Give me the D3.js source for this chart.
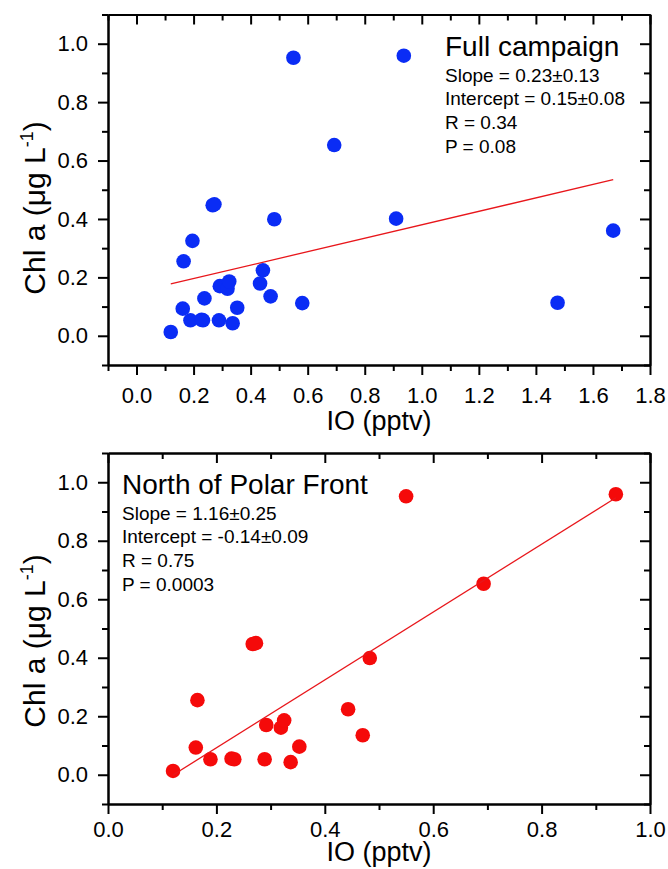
<!DOCTYPE html>
<html>
<head>
<meta charset="utf-8">
<script src="https://cdn.jsdelivr.net/npm/d3@7"></script>
<style>
  body { margin: 0; background: #fff; }
  svg text { font-family: "Liberation Sans", Arial, sans-serif; font-weight: normal; fill: #000; }
</style>
</head>
<body>
<div id="wrapper"></div>
<script>
// north of polar front samples
const northIO  = [0.120, 0.162, 0.165, 0.189, 0.228, 0.233, 0.267, 0.273, 0.289, 0.292,
                  0.319, 0.325, 0.337, 0.353, 0.443, 0.470, 0.483, 0.550, 0.693, 0.937];
const northChl = [0.013, 0.093, 0.255, 0.053, 0.055, 0.053, 0.447, 0.450, 0.053, 0.170,
                  0.161, 0.186, 0.043, 0.096, 0.224, 0.135, 0.399, 0.952, 0.653, 0.959];
// remaining samples (only in the full campaign panel)
const southIO  = [0.196, 0.238, 0.433, 0.581, 0.910, 1.476, 1.671];
const southChl = [0.325, 0.128, 0.179, 0.112, 0.401, 0.113, 0.360];

const fullIO  = northIO.concat(southIO);
const fullChl = northChl.concat(southChl);

const panelTitles = ["Full campaign", "North of Polar Front"];
const fitSlope = [0.23, 1.16];
const fitIntercept = [0.15, -0.14];
const statLines = [
  ["Slope = 0.23\u00B10.13", "Intercept = 0.15\u00B10.08", "R = 0.34", "P = 0.08"],
  ["Slope = 1.16\u00B10.25", "Intercept = -0.14\u00B10.09", "R = 0.75", "P = 0.0003"]
];
const xDomains = [[-0.1, 1.8], [0, 1.0]];
const yDomain = [-0.1, 1.1];
const yTicks = [0, 0.2, 0.4, 0.6, 0.8, 1.0];
const xTicksList = [[0, 0.2, 0.4, 0.6, 0.8, 1.0, 1.2, 1.4, 1.6, 1.8], [0, 0.2, 0.4, 0.6, 0.8, 1.0]];

const svg = d3.select("#wrapper").append("svg")
  .attr("width", 668)
  .attr("height", 869);

const panels = [
  { io: fullIO, chl: fullChl, color: "#0a2cf5", top: 14.5, bottom: 365, titleX: 445, titleY: 56,
    xPad: 12, xTitleY: 430, yTitleMid: 208 },
  { io: northIO, chl: northChl, color: "#f50a0a", top: 453, bottom: 804, titleX: 122, titleY: 494,
    xPad: 7, xTitleY: 861, yTitleMid: 641 }
];

const left = 108, right = 650;

panels.forEach((p, i) => {
  const x = d3.scaleLinear().domain(xDomains[i]).range([left, right]);
  const y = d3.scaleLinear().domain(yDomain).range([p.bottom, p.top]);

  const xMinor = d3.range(xDomains[i][0], xDomains[i][1] + 0.001, 0.1)
    .map(v => Math.round(v * 10) / 10)
    .filter(v => !xTicksList[i].some(t => Math.abs(t - v) < 1e-6));
  const yMinor = [-0.1, 0.1, 0.3, 0.5, 0.7, 0.9, 1.1];

  const g = svg.append("g");

  const styleAxis = sel => {
    sel.attr("font-family", null).attr("font-size", null);
    sel.selectAll("path").attr("stroke", "#000").attr("stroke-width", 2);
    sel.selectAll("line").attr("stroke", "#000").attr("stroke-width", 2);
    sel.selectAll("text").style("font-size", "22px").attr("fill", "#111");
  };

  // bottom axis
  g.append("g").attr("transform", `translate(0,${p.bottom})`)
    .call(d3.axisBottom(x).tickValues(xTicksList[i]).tickFormat(d3.format(".1f"))
      .tickSize(10).tickSizeOuter(0).tickPadding(p.xPad))
    .call(styleAxis);
  g.append("g").attr("transform", `translate(0,${p.bottom})`)
    .call(d3.axisBottom(x).tickValues(xMinor).tickFormat("").tickSize(6).tickSizeOuter(0))
    .call(styleAxis);

  // top axis, ticks inward
  g.append("g").attr("transform", `translate(0,${p.top})`)
    .call(d3.axisTop(x).tickValues(xTicksList[i]).tickFormat("").tickSize(-10).tickSizeOuter(0))
    .call(styleAxis);
  g.append("g").attr("transform", `translate(0,${p.top})`)
    .call(d3.axisTop(x).tickValues(xMinor).tickFormat("").tickSize(-6).tickSizeOuter(0))
    .call(styleAxis);

  // left axis
  g.append("g").attr("transform", `translate(${left},0)`)
    .call(d3.axisLeft(y).tickValues(yTicks).tickFormat(d3.format(".1f"))
      .tickSize(10).tickSizeOuter(0).tickPadding(10))
    .call(styleAxis);
  g.append("g").attr("transform", `translate(${left},0)`)
    .call(d3.axisLeft(y).tickValues(yMinor).tickFormat("").tickSize(6).tickSizeOuter(0))
    .call(styleAxis);

  // right axis, ticks inward
  g.append("g").attr("transform", `translate(${right},0)`)
    .call(d3.axisRight(y).tickValues(yTicks).tickFormat("").tickSize(-10).tickSizeOuter(0))
    .call(styleAxis);
  g.append("g").attr("transform", `translate(${right},0)`)
    .call(d3.axisRight(y).tickValues(yMinor).tickFormat("").tickSize(-6).tickSizeOuter(0))
    .call(styleAxis);

  // axis titles
  g.append("text")
    .attr("x", (left + right) / 2)
    .attr("y", p.xTitleY)
    .attr("text-anchor", "middle")
    .style("font-size", "27px")
    .text("IO (pptv)");

  const yt = g.append("text")
    .attr("transform", `translate(45,${p.yTitleMid}) rotate(-90)`)
    .attr("text-anchor", "middle")
    .style("font-size", "30px");
  yt.append("tspan").text("Chl a (\u03BCg L");
  yt.append("tspan").attr("dy", -12).style("font-size", "18px").text("-1");
  yt.append("tspan").attr("dy", 12).text(")");

  // points
  g.selectAll("circle.pt")
    .data(p.io.map((v, k) => [v, p.chl[k]]))
    .join("circle")
    .attr("class", "pt")
    .attr("cx", d => x(d[0]))
    .attr("cy", d => y(d[1]))
    .attr("r", 7.3)
    .attr("fill", p.color);

  // linear fit
  const ext = d3.extent(p.io);
  g.append("line")
    .attr("x1", x(ext[0])).attr("y1", y(fitIntercept[i] + fitSlope[i] * ext[0]))
    .attr("x2", x(ext[1])).attr("y2", y(fitIntercept[i] + fitSlope[i] * ext[1]))
    .attr("stroke", "#e8161b")
    .attr("stroke-width", 1.3);

  // annotations
  g.append("text")
    .attr("x", p.titleX).attr("y", p.titleY)
    .style("font-size", "28px")
    .text(panelTitles[i]);
  g.selectAll("text.stat")
    .data(statLines[i])
    .join("text")
    .attr("class", "stat")
    .attr("x", p.titleX)
    .attr("y", (d, k) => p.titleY + 25.5 + k * 23.7)
    .style("font-size", "19px")
    .text(d => d);
});
</script>
</body>
</html>
